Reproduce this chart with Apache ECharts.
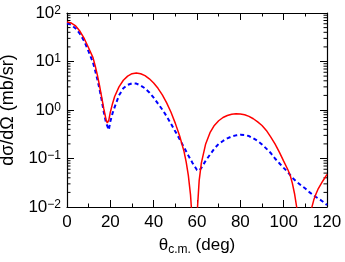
<!DOCTYPE html>
<html><head><meta charset="utf-8">
<script src="https://cdn.jsdelivr.net/npm/echarts@6/dist/echarts.min.js"></script>
<style>html,body{margin:0;padding:0;background:#fff}#c{width:345px;height:262px}</style>
</head><body><div id="c"></div>
<script>
const redAngles = [0,2,4,6,8,10,12,13,14,15,16,17,18,18.6,19.3,20,21,22,24,26,28,30,32,34,36,38,40,42,44,46,48,50,52,54,55,56,57,58,58.8,59.6,60.3,61,62,64,66,68,70,72,74,76,78,80,82,84,86,88,90,92,94,96,98,100,102,103,104,105,106,107,108,109.5,111,112,113,114,115,116,118,120];
const redValues = [65,62,54,42,29.5,19,12,8.2,5.3,3.2,1.85,1.05,0.64,0.54,0.62,0.9,1.35,1.9,3.0,4.1,5.0,5.6,5.8,5.6,5.1,4.4,3.6,2.8,2.05,1.4,0.9,0.53,0.29,0.14,0.085,0.045,0.018,0.004,0.0004,0.003,0.011,0.035,0.08,0.2,0.34,0.48,0.6,0.7,0.77,0.82,0.84,0.83,0.8,0.74,0.66,0.57,0.48,0.38,0.28,0.2,0.135,0.088,0.058,0.045,0.031,0.019,0.01,0.0045,0.0015,0.0002,0.0015,0.005,0.0098,0.0145,0.019,0.024,0.034,0.047];
const blueAngles = [0,2,4,6,8,10,12,13,14,15,16,17,18,19.3,20,21,22,24,26,28,30,32,34,36,38,40,42,44,46,48,50,52,54,56,58,60,61,62,64,66,68,70,72,74,76,78,80,82,84,86,88,90,92,94,96,98,100,102,104,106,108,110,112,114,116,118,120];
const blueValues = [61,57,48,37,26,16,9.5,6.5,4.3,2.7,1.6,0.9,0.55,0.39,0.58,0.85,1.15,2.0,2.8,3.3,3.55,3.5,3.2,2.8,2.3,1.8,1.35,1.02,0.74,0.52,0.36,0.25,0.17,0.115,0.08,0.058,0.056,0.064,0.09,0.12,0.16,0.2,0.23,0.26,0.285,0.3,0.31,0.305,0.29,0.26,0.23,0.195,0.16,0.13,0.1,0.08,0.064,0.052,0.04,0.033,0.028,0.024,0.02,0.017,0.015,0.013,0.011];
const xMin = 0, xMax = 120, xStep = 20;
const yMin = 0.01, yMax = 100;
const yMinorFactors = [2,3,4,5,6,7,8,9];
const xTitle = 'θ{sub|c.m.} (deg)';
const yTitle = 'dσ/dΩ (mb/sr)';

const FONT = 'Liberation Sans, Arial, Helvetica, sans-serif';
const chart = echarts.init(document.getElementById('c'), null, {renderer:'canvas'});
function pow10Label(v){
  const e = Math.round(Math.log10(v));
  return '10{s|' + (e < 0 ? '\u2212' + (-e) : e) + '}';
}
const supRich = { s: { fontSize: 12, verticalAlign: 'top', lineHeight: 13, padding:[0,0,7,0], fontFamily: FONT, color:'#000' } };
const lineStyleAxis = {show:true, onZero:false, lineStyle:{color:'#000', width:1.2}};
const tickStyle = {show:true, inside:true, length:7, lineStyle:{color:'#000', width:1}};
const xBase = {
  type:'value', min:xMin, max:xMax, interval:xStep,
  axisLine:lineStyleAxis, axisTick:tickStyle,
  minorTick:{show:true, splitNumber:2, length:3.5, lineStyle:{color:'#000', width:1}},
  splitLine:{show:false}
};
const yBase = {
  type:'log', logBase:10, min:yMin, max:yMax,
  axisLine:lineStyleAxis, axisTick:tickStyle, splitLine:{show:false}
};
chart.setOption({
  animation:false,
  backgroundColor:'#fff',
  grid:{left:67, right:18, top:13, bottom:55, containLabel:false, outerBoundsMode:'none'},
  xAxis:[
    Object.assign({}, xBase, {position:'bottom',
      axisLabel:{show:true, color:'#000', fontSize:17, fontFamily:FONT, margin:7},
      name:xTitle, nameLocation:'middle', nameGap:28,
      nameTextStyle:{color:'#000', fontSize:17, fontFamily:FONT,
        rich:{sub:{fontSize:12, fontFamily:FONT, color:'#000', verticalAlign:'bottom', padding:[9,0,0,0]}}}
    }),
    Object.assign({}, xBase, {position:'top', axisLabel:{show:false}})
  ],
  yAxis:[
    Object.assign({}, yBase, {position:'left',
      axisLabel:{show:true, color:'#000', fontSize:17, fontFamily:FONT, margin:6, formatter:pow10Label, rich:supRich},
      name:yTitle, nameLocation:'middle', nameGap:44, nameRotate:90,
      nameTextStyle:{color:'#000', fontSize:18, fontFamily:FONT}
    }),
    Object.assign({}, yBase, {position:'right', axisLabel:{show:false}})
  ],
  series:[
    {type:'line', xAxisIndex:0, yAxisIndex:0, data:blueAngles.map((a,i)=>[a, blueValues[i]]),
     showSymbol:false, clip:true, z:2,
     lineStyle:{color:'#0000ff', width:2, type:[4,3]}},
    {type:'line', xAxisIndex:0, yAxisIndex:0, data:redAngles.map((a,i)=>[a, redValues[i]]),
     showSymbol:false, clip:true, z:3,
     lineStyle:{color:'#ff0000', width:1.5}}
  ]
});
// minor log ticks (2..9 per decade) placed through the library's own log scale
const xL = chart.convertToPixel({xAxisIndex:0}, xMin);
const xR = chart.convertToPixel({xAxisIndex:0}, xMax);
const gr = [];
for (let d = Math.round(Math.log10(yMin)); d < Math.round(Math.log10(yMax)); d++) {
  yMinorFactors.forEach(k => {
    const py = chart.convertToPixel({yAxisIndex:0}, k * Math.pow(10, d));
    gr.push({type:'line', silent:true, shape:{x1:xL, y1:py, x2:xL+3.5, y2:py}, style:{stroke:'#000', lineWidth:1}});
    gr.push({type:'line', silent:true, shape:{x1:xR, y1:py, x2:xR-3.5, y2:py}, style:{stroke:'#000', lineWidth:1}});
  });
}
chart.setOption({graphic:gr});
</script>
</body></html>
